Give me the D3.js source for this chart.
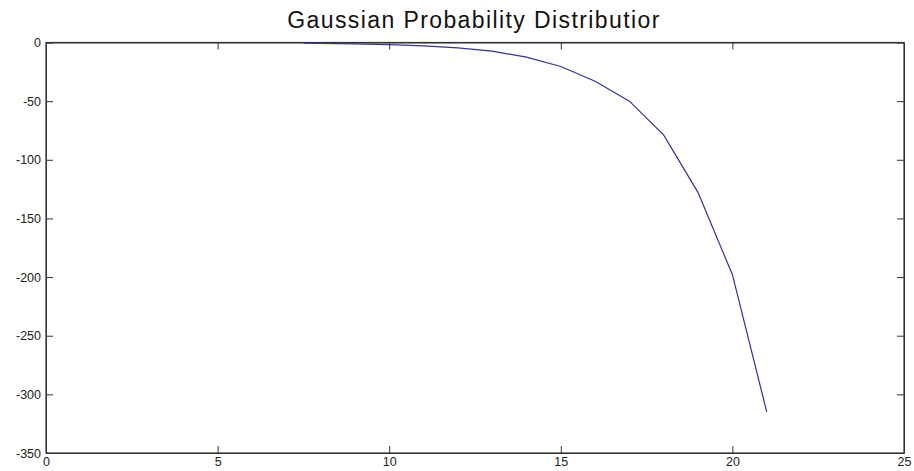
<!DOCTYPE html>
<html>
<head>
<meta charset="utf-8">
<script src="https://cdn.jsdelivr.net/npm/d3@7"></script>
<style>
  body { margin: 0; background: #fff; }
  .tick text { font-family: "Liberation Sans", Arial, sans-serif; font-size: 12.5px; fill: #222; }
</style>
</head>
<body>
<div class="chart"></div>
<script>
var svgWidth = 914;
var svgHeight = 471;

var margin = { top: 42.5, right: 10, bottom: 18, left: 46 };
var width = 904 - margin.left;
var height = 453 - margin.top;

// data
var xValues = [7.5, 8, 9, 10, 11, 12, 13, 14, 15, 16, 17, 18, 19, 20, 21];
var yValues = [-0.5, -0.7, -1.1, -1.8, -2.9, -4.6, -7.4, -12.5, -20.5, -33, -50, -79, -128, -198, -315];
var xTicks = [0, 5, 10, 15, 20, 25];
var yTicks = [0, -50, -100, -150, -200, -250, -300, -350];
var titleText = "Gaussian Probability Distributior";

var svg = d3.select(".chart")
  .append("svg")
  .attr("width", svgWidth)
  .attr("height", svgHeight);

var chartGroup = svg.append("g")
  .attr("transform", `translate(${margin.left}, ${margin.top})`);

var xScale = d3.scaleLinear().domain([0, 25]).range([0, width]);
var yScale = d3.scaleLinear().domain([-350, 0]).range([height, 0]);

// axes box
chartGroup.append("rect")
  .attr("width", width)
  .attr("height", height)
  .attr("fill", "none")
  .attr("stroke", "#333")
  .attr("stroke-width", 1.2);

// plain hyphen minus like the original
var fmt = d => String(d);

// bottom & left axes with inward ticks, mirrored on top & right
var bottomAxis = d3.axisBottom(xScale).tickValues(xTicks).tickSizeInner(-7).tickSizeOuter(0).tickPadding(4).tickFormat(fmt);
var leftAxis = d3.axisLeft(yScale).tickValues(yTicks).tickSizeInner(-7).tickSizeOuter(0).tickPadding(5).tickFormat(fmt);
var topAxis = d3.axisTop(xScale).tickValues(xTicks).tickSizeInner(-7).tickSizeOuter(0).tickFormat("");
var rightAxis = d3.axisRight(yScale).tickValues(yTicks).tickSizeInner(-7).tickSizeOuter(0).tickFormat("");

chartGroup.append("g").attr("transform", `translate(0, ${height})`).call(bottomAxis);
chartGroup.append("g").call(leftAxis);
chartGroup.append("g").call(topAxis);
chartGroup.append("g").attr("transform", `translate(${width}, 0)`).call(rightAxis);

chartGroup.selectAll(".domain").attr("stroke", "#333");
chartGroup.selectAll(".tick line").attr("stroke", "#333");
chartGroup.selectAll(".tick text").attr("fill", "#222");

// the curve
var data = xValues.map((x, i) => ({ x: x, y: yValues[i] }));
var line = d3.line().x(d => xScale(d.x)).y(d => yScale(d.y));

chartGroup.append("path")
  .datum(data)
  .attr("fill", "none")
  .attr("stroke", "#3232a0")
  .attr("stroke-width", 1.2)
  .attr("d", line);

// title
svg.append("text")
  .attr("x", 474)
  .attr("y", 28)
  .attr("text-anchor", "middle")
  .attr("font-family", "Liberation Sans, Arial, sans-serif")
  .attr("font-size", "23px")
  .attr("letter-spacing", "1.4px")
  .attr("fill", "#111")
  .text(titleText);
</script>
</body>
</html>
